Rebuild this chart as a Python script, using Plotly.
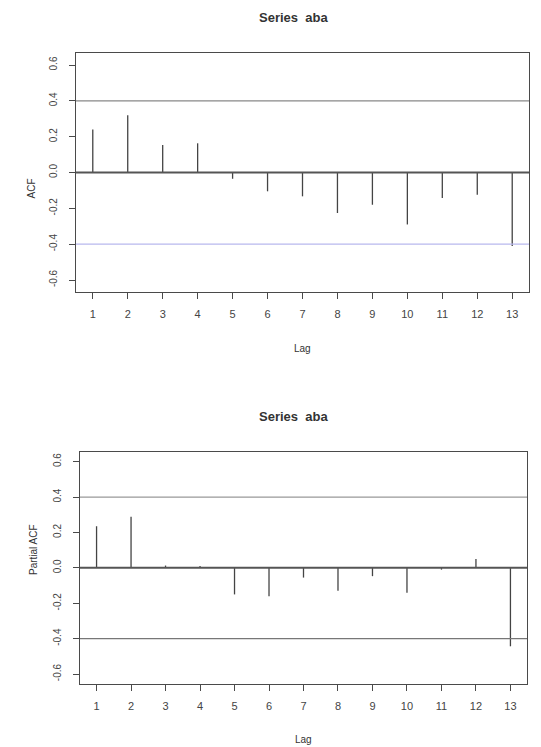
import plotly.graph_objects as go

# Autocorrelation estimates of the series "aba"
lags = list(range(1, 14))
acf_vals = [0.24, 0.32, 0.154, 0.163, -0.035, -0.105, -0.133, -0.226, -0.18, -0.29, -0.142, -0.124, -0.41]
pacf_vals = [0.235, 0.288, 0.013, 0.01, -0.15, -0.16, -0.055, -0.13, -0.047, -0.14, -0.01, 0.05, -0.443]

y_ticks = [-0.6, -0.4, -0.2, 0.0, 0.2, 0.4, 0.6]
y_tick_text = ["-0.6", "-0.4", "-0.2", "0.0", "0.2", "0.4", "0.6"]
conf_bound = 0.4

W, H = 541, 747
FONT = "Liberation Sans, Arial, sans-serif"
AX = "#4a4a4a"


def spikes(xs, ys):
    px, py = [], []
    for x, y in zip(xs, ys):
        px += [x, x, None]
        py += [0, y, None]
    return px, py


fig = go.Figure()

ax_, ay_ = spikes(lags, acf_vals)
fig.add_trace(go.Scatter(x=ax_, y=ay_, mode="lines", line=dict(color="#444444", width=1.3),
                         xaxis="x", yaxis="y", showlegend=False, hoverinfo="skip"))
px_, py_ = spikes(lags, pacf_vals)
fig.add_trace(go.Scatter(x=px_, y=py_, mode="lines", line=dict(color="#444444", width=1.3),
                         xaxis="x2", yaxis="y2", showlegend=False, hoverinfo="skip"))

common_x = dict(range=[0.52, 13.48], tickmode="array", tickvals=lags,
                ticktext=[str(l) for l in lags], showgrid=False, zeroline=False,
                showline=True, linecolor=AX, linewidth=1.2, mirror=True,
                ticks="outside", ticklen=6, tickcolor=AX, ticklabelstandoff=6,
                tickfont=dict(family=FONT, size=11, color="#444444"))
common_y = dict(tickmode="array", tickvals=y_ticks, ticktext=y_tick_text,
                showgrid=False, zeroline=False, showline=True, linecolor=AX,
                linewidth=1.2, mirror=True, ticks="outside", ticklen=6, tickcolor=AX,
                tickangle=-90, ticklabelstandoff=8,
                tickfont=dict(family=FONT, size=10, color="#444444"))

fig.update_layout(
    width=W, height=H, margin=dict(l=0, r=0, t=0, b=0),
    paper_bgcolor="white", plot_bgcolor="white",
    xaxis=dict(domain=[76 / W, 529 / W], anchor="y", **common_x),
    yaxis=dict(domain=[1 - 292 / H, 1 - 53 / H], anchor="x", range=[-0.667, 0.667], **common_y),
    xaxis2=dict(domain=[80 / W, 527 / W], anchor="y2", **common_x),
    yaxis2=dict(domain=[1 - 684 / H, 1 - 451.7 / H], anchor="x2", range=[-0.656, 0.656], **common_y),
)

shapes = []
# zero lines and confidence bounds
for xr, yr, lo_col, hi_col in [("x domain", "y", "#b8b8ee", "#888888"),
                               ("x2 domain", "y2", "#777777", "#999999")]:
    shapes.append(dict(type="line", xref=xr, yref=yr, x0=0, x1=1, y0=0, y1=0,
                       line=dict(color="#555555", width=2)))
    shapes.append(dict(type="line", xref=xr, yref=yr, x0=0, x1=1, y0=conf_bound, y1=conf_bound,
                       line=dict(color=hi_col, width=1.2)))
    shapes.append(dict(type="line", xref=xr, yref=yr, x0=0, x1=1, y0=-conf_bound, y1=-conf_bound,
                       line=dict(color=lo_col, width=1.3)))
fig.update_layout(shapes=shapes)

annotations = [
    dict(text="<b>Series  aba</b>", x=293 / W, y=1 - 18 / H),
    dict(text="<b>Series  aba</b>", x=293 / W, y=1 - 416 / H),
    dict(text="Lag", x=302 / W, y=1 - 348 / H),
    dict(text="Lag", x=303 / W, y=1 - 739 / H),
]
for a in annotations:
    fig.add_annotation(xref="paper", yref="paper", showarrow=False, xanchor="center",
                       yanchor="middle", font=dict(family=FONT, size=13 if "Series" in a["text"] else 10,
                                                   color="#333333"), **a)
fig.add_annotation(text="ACF", xref="paper", yref="paper", x=23 / W, y=1 - 177 / H,
                   showarrow=False, textangle=-90, font=dict(family=FONT, size=10, color="#333333"))
fig.add_annotation(text="Partial ACF", xref="paper", yref="paper", x=26 / W, y=1 - 577 / H,
                   showarrow=False, textangle=-90, font=dict(family=FONT, size=10, color="#333333"))

fig.write_html("out.html")
